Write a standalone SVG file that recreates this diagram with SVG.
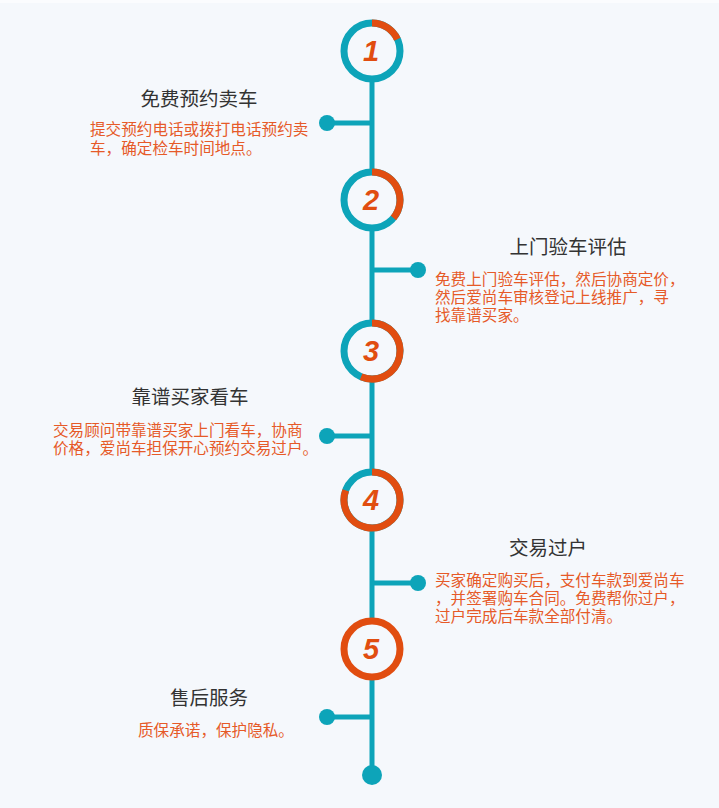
<svg xmlns="http://www.w3.org/2000/svg" width="719" height="808" viewBox="0 0 719 808">
  <style>
    .title { font-family: "Noto Sans CJK SC", "Noto Sans", sans-serif; font-size: 19.5px; fill: #333333; text-anchor: middle; }
    .desc { font-family: "Noto Sans CJK SC", "Noto Sans", sans-serif; font-size: 15.6px; fill: #e65a28; }
    .num { font-family: "Liberation Sans", Arial, sans-serif; font-size: 29px; font-weight: bold; font-style: italic; fill: #e14d10; text-anchor: middle; }
    .ring { fill: #f5f8fc; stroke: #0da4b9; stroke-width: 7; }
    .prog { fill: none; stroke: #e14d10; stroke-width: 7; }
    .stem { stroke: #0da4b9; stroke-width: 5; fill: none; }
    .dot { fill: #0da4b9; }
  </style>
  <rect x="0" y="0" width="719" height="808" fill="#f5f8fc"/>
  <rect x="0" y="0" width="719" height="3" fill="#fbfcfe"/>

  <!-- timeline spine and branches -->
  <g id="connectors">
    <line class="stem" x1="372" y1="51" x2="372" y2="775"/>
    <line class="stem" x1="327" y1="123" x2="372" y2="123"/>
    <circle class="dot" cx="327" cy="123" r="8"/>
    <line class="stem" x1="372" y1="270" x2="418" y2="270"/>
    <circle class="dot" cx="418" cy="270" r="8"/>
    <line class="stem" x1="327" y1="436" x2="372" y2="436"/>
    <circle class="dot" cx="327" cy="436" r="8"/>
    <line class="stem" x1="372" y1="583" x2="418" y2="583"/>
    <circle class="dot" cx="418" cy="583" r="8"/>
    <line class="stem" x1="327" y1="717" x2="372" y2="717"/>
    <circle class="dot" cx="327" cy="717" r="8"/>
    <circle class="dot" cx="372" cy="775" r="10"/>
  </g>

  <g id="step1">
    <circle class="ring" cx="372" cy="51" r="28"/>
    <path class="prog" d="M372 23 A28 28 0 0 1 397.38 39.17"/>
    <text class="num" x="371" y="61">1</text>
    <text class="title" x="199" y="106">免费预约卖车</text>
    <text class="desc"><tspan x="90" y="135">提交预约电话或拨打电话预约卖</tspan><tspan x="90" y="154">车，确定检车时间地点。</tspan></text>
  </g>

  <g id="step2">
    <circle class="ring" cx="372" cy="200" r="28"/>
    <path class="prog" d="M372 172 A28 28 0 0 1 393.45 218"/>
    <text class="num" x="371" y="210">2</text>
    <text class="title" x="568" y="254">上门验车评估</text>
    <text class="desc"><tspan x="435" y="285">免费上门验车评估，然后协商定价，</tspan><tspan x="435" y="303">然后爱尚车审核登记上线推广，寻</tspan><tspan x="435" y="321">找靠谱买家。</tspan></text>
  </g>

  <g id="step3">
    <circle class="ring" cx="372" cy="351" r="28"/>
    <path class="prog" d="M372 323 A28 28 0 1 1 361.06 376.77"/>
    <text class="num" x="371" y="361">3</text>
    <text class="title" x="190" y="404">靠谱买家看车</text>
    <text class="desc"><tspan x="53" y="436">交易顾问带靠谱买家上门看车，协商</tspan><tspan x="53" y="454">价格，爱尚车担保开心预约交易过户。</tspan></text>
  </g>

  <g id="step4">
    <circle class="ring" cx="372" cy="500" r="28"/>
    <path class="prog" d="M372 472 A28 28 0 1 1 345.69 490.42"/>
    <text class="num" x="371" y="510">4</text>
    <text class="title" x="548" y="555">交易过户</text>
    <text class="desc"><tspan x="435" y="586">买家确定购买后，支付车款到爱尚车</tspan><tspan x="435" y="604">，并签署购车合同。免费帮你过户，</tspan><tspan x="435" y="622">过户完成后车款全部付清。</tspan></text>
  </g>

  <g id="step5">
    <circle class="ring" cx="372" cy="649" r="28" style="stroke:#e14d10"/>
    <text class="num" x="371" y="659">5</text>
    <text class="title" x="209" y="705">售后服务</text>
    <text class="desc" x="138" y="736">质保承诺，保护隐私。</text>
  </g>
</svg>
